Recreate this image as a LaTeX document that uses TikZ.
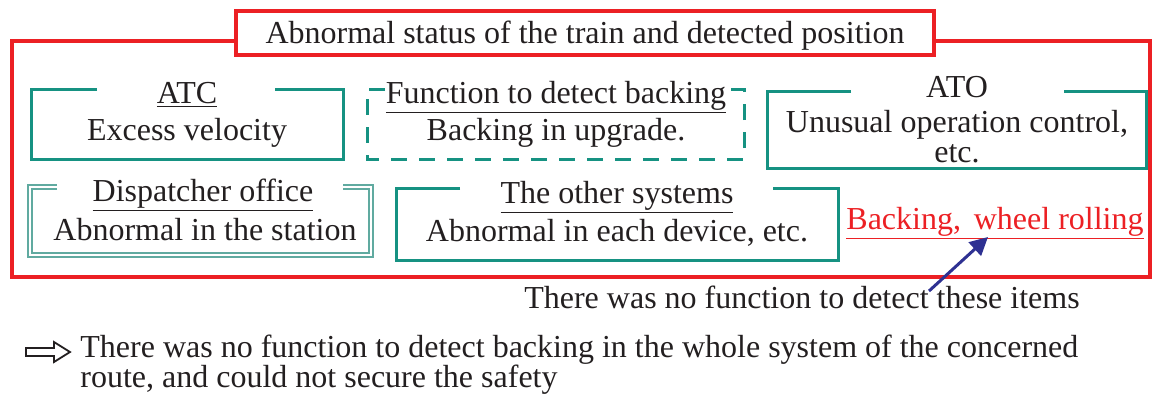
\documentclass[tikz,border=0pt]{standalone}
\usepackage{fontspec}
\setmainfont{Liberation Serif}
\usetikzlibrary{arrows.meta}
\definecolor{framered}{RGB}{236,32,36}
\definecolor{tealdark}{RGB}{22,146,130}
\definecolor{teallight}{RGB}{96,170,160}
\definecolor{arrownavy}{RGB}{46,49,146}
\definecolor{ink}{RGB}{35,31,32}
\begin{document}
\begin{tikzpicture}[x=0.5pt,y=-0.5pt,
  txt/.style={font=\fontsize{16}{19}\selectfont, text=ink, inner sep=0pt, anchor=base},
  redtxt/.style={txt, text=framered},
  redframe/.style={draw=framered, line width=1.6pt},
  tealframe/.style={draw=tealdark, line width=1.5pt},
  tealdash/.style={tealframe, dash pattern=on 8pt off 6pt},
  tealdouble/.style={draw=teallight, line width=0.8pt, double=white, double distance=1.4pt},
  pointer/.style={draw=arrownavy, line width=1.5pt, -{Triangle[length=9pt,width=9pt]}},
  hollowarrow/.style={draw=ink, line width=0.9pt, fill=white}
]
\useasboundingbox (0,0) rectangle (1156,398);

% outer frame and its heading
\draw[redframe] (12,41) rectangle (1150,277);
\node[redframe, fill=white, minimum width=349pt, minimum height=22pt, inner sep=0pt] (heading) at (585,33) {};
\node[txt] (headingtext) at (585,43) {Abnormal status of the train and detected position};

% ATC
\draw[tealframe] (97,89) -- (31,89) -- (31,159) -- (343,159) -- (343,89) -- (275,89);
\node[txt] (atc) at (187,103) {\underline{ATC}};
\node[txt] (atcitem) at (187,140) {Excess velocity};

% backing detection function (dashed)
\draw[tealdash] (385,89) -- (367,89) -- (367,159) -- (744,159) -- (744,89) -- (730,89);
\node[txt] (backfn) at (556,103) {\underline{Function to detect backing}};
\node[txt] (backfnitem) at (556,140) {Backing in upgrade.};

% ATO
\draw[tealframe] (851,91) -- (767,91) -- (767,168) -- (1146,168) -- (1146,91) -- (1064,91);
\node[txt] (ato) at (957,97) {ATO};
\node[txt] (atoitem) at (957,132) {Unusual operation control,};
\node[txt] (atoetc) at (957,162) {etc.};

% dispatcher office (double line)
\draw[tealdouble] (57,187) -- (30,187) -- (30,255) -- (371,255) -- (371,187) -- (343,187);
\node[txt] (disp) at (203,201) {\underline{Dispatcher office}};
\node[txt] (dispitem) at (205,240) {Abnormal in the station};

% other systems
\draw[tealframe] (460,188) -- (396,188) -- (396,260) -- (838,260) -- (838,188) -- (773,188);
\node[txt] (other) at (617,203) {\underline{The other systems}};
\node[txt] (otheritem) at (617,241) {Abnormal in each device, etc.};

% undetected items
\node[redtxt] (backing) at (995,229) {\underline{Backing,\hspace{0.4em}wheel rolling}};
\node[txt] (nodetect) at (802,308) {There was no function to detect these items};
\coordinate (pointtail) at (929,291);
\coordinate (pointtip) at (988,237);
\draw[pointer] (pointtail) -- (pointtip);

% conclusion
\draw[hollowarrow] (26,348) -- (54,348) -- (54,342) -- (70,352) -- (54,362) -- (54,356) -- (26,356) -- cycle;
\node[txt, anchor=base west] (concl1) at (80,357) {There was no function to detect backing in the whole system of the concerned};
\node[txt, anchor=base west] (concl2) at (80,387) {route, and could not secure the safety};
\end{tikzpicture}
\end{document}
